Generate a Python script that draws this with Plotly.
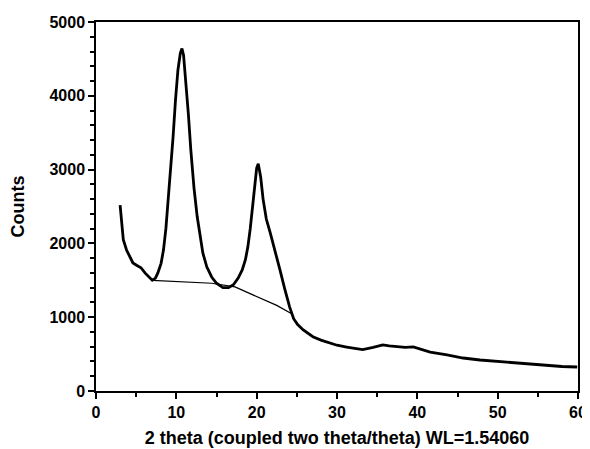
import plotly.graph_objects as go

# XRD pattern
two_theta = [3.0, 3.2, 3.4, 3.8, 4.2, 4.6, 5.1, 5.6, 6.1, 6.6, 7.0, 7.4, 7.7, 8.1, 8.4,
             8.7, 9.0, 9.3, 9.6, 9.9, 10.2, 10.5, 10.7, 10.9, 11.2, 11.5, 11.8, 12.2,
             12.6, 13.0, 13.3, 13.8, 14.4, 15.0, 15.8, 16.5, 17.1, 17.7, 18.2, 18.6,
             18.9, 19.2, 19.5, 19.8, 20.0, 20.2, 20.5, 20.8, 21.2, 21.7, 22.3, 22.9,
             23.5, 24.1, 24.6, 25.1, 25.8, 27.0, 28.0, 29.1, 30.0, 31.2, 32.2, 33.2,
             34.5, 35.7, 36.5, 37.5, 38.5, 39.5, 40.5, 41.6, 43.7, 45.7, 47.8, 50.0,
             51.9, 54.0, 56.1, 58.0, 59.9]
counts = [2520, 2250, 2050, 1910, 1810, 1735, 1700, 1670, 1600, 1540, 1500, 1530, 1600,
          1730, 1910, 2200, 2590, 3000, 3450, 3950, 4350, 4580, 4640, 4550, 4200, 3750,
          3270, 2750, 2360, 2070, 1870, 1680, 1545, 1460, 1400, 1400, 1440, 1530, 1640,
          1780, 1950, 2200, 2490, 2850, 3020, 3080, 2900, 2600, 2330, 2140, 1900, 1640,
          1380, 1140, 980, 900, 827, 735, 690, 650, 620, 596, 575, 560, 590, 625, 610,
          596, 590, 598, 560, 528, 488, 447, 420, 400, 380, 360, 340, 332, 325]

# background line under the peaks
bg_theta = [7.0, 11.0, 14.4, 17.3, 20.0, 22.5, 24.3]
bg_counts = [1500, 1480, 1460, 1410, 1280, 1160, 1050]

fig = go.Figure()
fig.add_trace(go.Scatter(x=bg_theta, y=bg_counts, mode="lines",
                         line=dict(color="black", width=1.2), showlegend=False))
fig.add_trace(go.Scatter(x=two_theta, y=counts, mode="lines",
                         line=dict(color="black", width=2.8), showlegend=False))

# page body has an 8px margin, so the figure is a bit smaller than the window
fig.update_layout(
    width=582, height=441,
    margin=dict(l=88, r=12, t=14, b=58),
    plot_bgcolor="white", paper_bgcolor="white",
    font=dict(family="Liberation Sans, Arial", color="black", size=16),
)
fig.update_xaxes(
    range=[0, 60], tickvals=[0, 10, 20, 30, 40, 50, 60],
    ticks="outside", ticklen=6, tickwidth=1.5, tickcolor="black",
    minor=dict(dtick=5, ticks="outside", ticklen=4, tickcolor="black"),
    showline=True, linecolor="black", linewidth=1.5, mirror=True,
    showgrid=False, zeroline=False, automargin=False,
    tickfont=dict(size=16, weight="bold"),
    title=dict(text="2 theta (coupled two theta/theta) WL=1.54060",
               font=dict(size=18, weight="bold"), standoff=11),
)
fig.update_yaxes(
    range=[0, 5000], tickvals=[0, 1000, 2000, 3000, 4000, 5000],
    ticks="outside", ticklen=6, tickwidth=1.5, tickcolor="black",
    minor=dict(dtick=200, ticks="outside", ticklen=4, tickcolor="black"),
    showline=True, linecolor="black", linewidth=1.5, mirror=True,
    showgrid=False, zeroline=False, automargin=False,
    tickfont=dict(size=16, weight="bold"),
    title=dict(text="Counts", font=dict(size=18, weight="bold"), standoff=30),
)

fig.write_html("out.html")
